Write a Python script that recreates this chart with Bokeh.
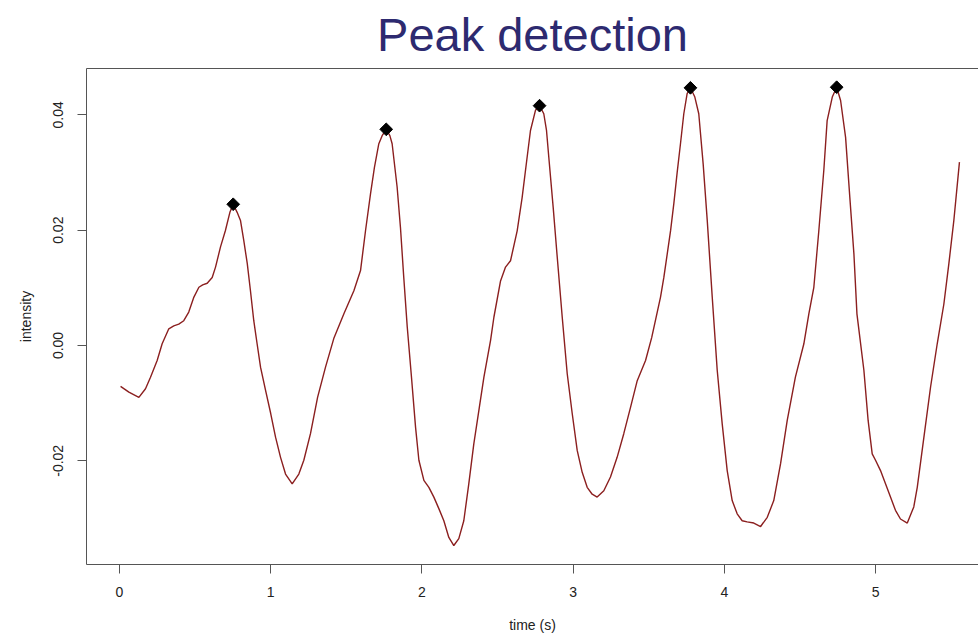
import math
from bokeh.plotting import figure
from bokeh.models import FixedTicker, PrintfTickFormatter, LinearAxis, Range1d
from bokeh.embed import file_html
from bokeh.resources import INLINE

# signal (time in s, intensity)
time_s = [0.007, 0.062, 0.128, 0.172, 0.205, 0.249, 0.282, 0.326, 0.359, 0.392, 0.425, 0.458,
          0.492, 0.525, 0.55, 0.58, 0.613, 0.635, 0.668, 0.70, 0.73, 0.752, 0.778, 0.80, 0.822,
          0.845, 0.866, 0.888, 0.91, 0.933, 0.966, 1.0, 1.032, 1.065, 1.098, 1.142, 1.186, 1.219,
          1.263, 1.31, 1.362, 1.417, 1.484, 1.55, 1.594, 1.627, 1.66, 1.686, 1.715, 1.737, 1.764,
          1.788, 1.803, 1.836, 1.858, 1.88, 1.903, 1.931, 1.958, 1.98, 2.013, 2.046, 2.079, 2.112,
          2.145, 2.178, 2.211, 2.244, 2.277, 2.31, 2.343, 2.38, 2.41, 2.454, 2.476, 2.52, 2.553,
          2.586, 2.63, 2.663, 2.696, 2.718, 2.751, 2.778, 2.806, 2.824, 2.839, 2.868, 2.895, 2.928,
          2.961, 2.994, 3.027, 3.06, 3.093, 3.126, 3.159, 3.203, 3.247, 3.291, 3.335, 3.38, 3.424,
          3.479, 3.52, 3.578, 3.6, 3.645, 3.666, 3.688, 3.71, 3.732, 3.754, 3.776, 3.805, 3.831,
          3.86, 3.887, 3.92, 3.953, 3.986, 4.019, 4.052, 4.085, 4.118, 4.151, 4.195, 4.24, 4.284,
          4.327, 4.372, 4.416, 4.47, 4.526, 4.559, 4.592, 4.625, 4.658, 4.68, 4.714, 4.743, 4.769,
          4.802, 4.83, 4.857, 4.877, 4.923, 4.951, 4.978, 5.0, 5.033, 5.066, 5.099, 5.132, 5.165,
          5.21, 5.253, 5.276, 5.32, 5.364, 5.408, 5.452, 5.485, 5.518, 5.555]
intensity = [-0.0071, -0.0081, -0.0090, -0.0075, -0.0055, -0.0026, 0.0003, 0.0029, 0.0034, 0.0037,
             0.0043, 0.0058, 0.0084, 0.0101, 0.0105, 0.0108, 0.0118, 0.0136, 0.0171, 0.0199, 0.0231,
             0.0245, 0.0231, 0.0217, 0.0182, 0.0142, 0.0095, 0.0043, 0.0003, -0.0038, -0.0078,
             -0.0118, -0.0159, -0.0194, -0.0223, -0.0240, -0.0223, -0.0199, -0.0153, -0.0090,
             -0.0038, 0.0012, 0.0055, 0.0095, 0.0130, 0.0199, 0.0263, 0.0309, 0.0350, 0.0364,
             0.0375, 0.0364, 0.0350, 0.0275, 0.0205, 0.0118, 0.0032, -0.0055, -0.0142, -0.0199,
             -0.0234, -0.0246, -0.0263, -0.0283, -0.0304, -0.0333, -0.0347, -0.0335, -0.0304,
             -0.0240, -0.0171, -0.0107, -0.0055, 0.0009, 0.0049, 0.0112, 0.0136, 0.0147, 0.0199,
             0.0257, 0.0327, 0.0373, 0.0408, 0.0416, 0.0402, 0.0373, 0.0327, 0.0240, 0.0153,
             0.0049, -0.0049, -0.0118, -0.0182, -0.0220, -0.0246, -0.0258, -0.0263, -0.0252,
             -0.0228, -0.0194, -0.0153, -0.0107, -0.0061, -0.0026, 0.0014, 0.0084, 0.0118, 0.0200,
             0.0246, 0.0300, 0.0350, 0.0402, 0.0437, 0.0447, 0.0431, 0.0402, 0.0315, 0.0217,
             0.0084, -0.0043, -0.0136, -0.0217, -0.0269, -0.0292, -0.0304, -0.0306, -0.0308,
             -0.0314, -0.0298, -0.0269, -0.0205, -0.0130, -0.0055, 0.0003, 0.0055, 0.0101, 0.0199,
             0.0304, 0.0390, 0.0431, 0.0448, 0.0425, 0.0361, 0.0257, 0.0159, 0.0055, -0.0043,
             -0.0130, -0.0188, -0.0199, -0.0217, -0.0240, -0.0263, -0.0286, -0.0301, -0.0308,
             -0.0280, -0.0246, -0.0159, -0.0072, 0.0003, 0.0072, 0.0142, 0.0217, 0.0318]

# detected peaks
peak_time = [0.752, 1.764, 2.778, 3.776, 4.743]
peak_intensity = [0.0245, 0.0375, 0.0416, 0.0447, 0.0448]

x_ticks = [0, 1, 2, 3, 4, 5]
y_ticks = [-0.02, 0.0, 0.02, 0.04]

FONT = "Liberation Sans"
AXIS_COL = "#555555"
TEXT_COL = "#222222"

X0, X1 = -0.2183, 5.681
Y0, Y1 = -0.03799, 0.04805

p = figure(width=978, height=635, output_backend="svg", toolbar_location=None,
           x_range=Range1d(X0, X1), y_range=Range1d(Y0, Y1),
           title="Peak detection",
           min_border_left=86, min_border_top=68,
           min_border_bottom=71, min_border_right=0)
p.outline_line_color = None
p.background_fill_color = "white"
p.border_fill_color = "white"
p.xgrid.visible = False
p.ygrid.visible = False

p.title.text_font = FONT
p.title.text_font_size = "47px"
p.title.text_font_style = "normal"
p.title.text_color = "#2D2A70"
p.title.align = "center"
p.title.vertical_align = "top"
p.title.standoff = 12

for ax in (p.xaxis[0], p.yaxis[0]):
    ax.axis_line_color = AXIS_COL
    ax.major_tick_line_color = AXIS_COL
    ax.major_tick_in = 0
    ax.major_tick_out = 9
    ax.minor_tick_line_color = None
    ax.major_label_text_font = FONT
    ax.major_label_text_font_size = "14px"
    ax.major_label_text_color = TEXT_COL
    ax.axis_label_text_font = FONT
    ax.axis_label_text_font_size = "14px"
    ax.axis_label_text_font_style = "normal"
    ax.axis_label_text_color = TEXT_COL

p.xaxis.ticker = FixedTicker(ticks=x_ticks)
p.xaxis.axis_label = "time (s)"
p.xaxis.major_label_standoff = 13
p.xaxis.axis_label_standoff = 17

p.yaxis.ticker = FixedTicker(ticks=y_ticks)
p.yaxis.formatter = PrintfTickFormatter(format="%.2f")
p.yaxis.major_label_orientation = "vertical"
p.yaxis.axis_label = "intensity"
p.yaxis.major_label_standoff = 14
p.yaxis.axis_label_standoff = 17

top = LinearAxis(ticker=FixedTicker(ticks=[]), axis_line_color=AXIS_COL,
                 major_tick_line_color=None, minor_tick_line_color=None,
                 major_tick_out=0, major_tick_in=0, major_label_standoff=0)
p.add_layout(top, "above")

p.line(time_s, intensity, line_color="#8B1F1F", line_width=1.4)
p.scatter(peak_time, peak_intensity, marker="square", angle=math.pi / 4, size=9,
          fill_color="black", line_color="black")

open("out.html", "w").write(file_html(p, INLINE))
